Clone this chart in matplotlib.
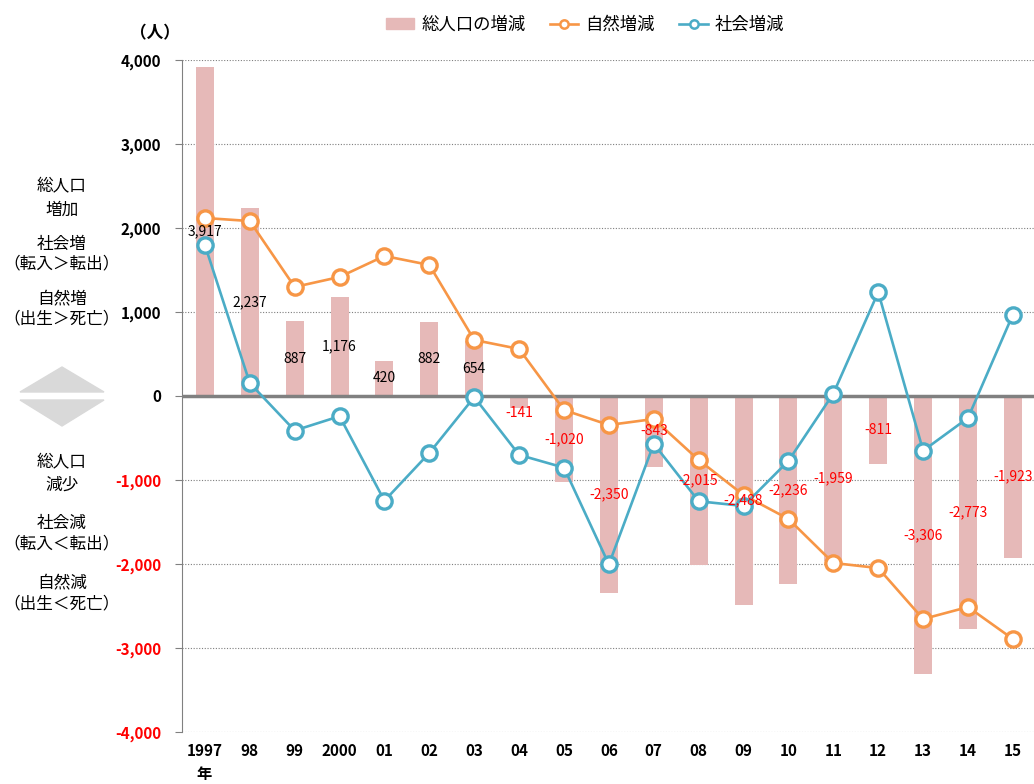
import matplotlib
matplotlib.use("Agg")
import matplotlib.pyplot as plt
from matplotlib.patches import Polygon
from matplotlib.lines import Line2D
from matplotlib.patches import Patch
from matplotlib.ticker import FuncFormatter

plt.rcParams['font.family'] = ['Noto Sans CJK JP', 'DejaVu Sans']

years = ["1997", "98", "99", "2000", "01", "02", "03", "04", "05", "06",
         "07", "08", "09", "10", "11", "12", "13", "14", "15"]
total = [3917, 2237, 887, 1176, 420, 882, 654, -141, -1020, -2350,
         -843, -2015, -2488, -2236, -1959, -811, -3306, -2773, -1923]
natural = [2119, 2083, 1298, 1417, 1667, 1560, 667, 560, -167, -345,
           -274, -762, -1179, -1464, -1988, -2048, -2655, -2512, -2893]
social = [1798, 154, -411, -241, -1247, -678, -13, -701, -853, -2005,
          -569, -1253, -1309, -772, 29, 1237, -651, -261, 970]

BAR_C = "#e6b9b8"
NAT_C = "#f79646"
SOC_C = "#4bacc6"
RED = "#ff0000"

fig = plt.figure(figsize=(10.34, 7.84), dpi=100)
ax = fig.add_axes([182 / 1034, 52 / 784, 1 - 182 / 1034, (732 - 60) / 784])

x = list(range(len(years)))
ax.bar(x, total, width=0.4, color=BAR_C, zorder=2)
ax.axhline(0, color="#808080", lw=2.5, zorder=3)
ax.plot(x, natural, color=NAT_C, lw=1.9, marker="o", ms=11,
        mfc="white", mec=NAT_C, mew=2.4, zorder=4)
ax.plot(x, social, color=SOC_C, lw=1.9, marker="o", ms=11,
        mfc="white", mec=SOC_C, mew=2.4, zorder=4)

# ラベルは棒の中央 (短い棒は棒の外側)
for i, v in enumerate(total):
    ly = v / 2 if abs(v) > 300 else v - 60
    ax.text(i, ly, f"{v:,}", ha="center", va="center", fontsize=10,
            color="black" if v >= 0 else RED, zorder=5)

ax.set_xlim(-0.51, 18.47)
ax.set_ylim(-4000, 4000)
ax.set_yticks(range(-4000, 4001, 1000))
ax.yaxis.set_major_formatter(FuncFormatter(lambda v, p: f"{int(v):,}"))
for lab, v in zip(ax.get_yticklabels(), range(-4000, 4001, 1000)):
    lab.set_fontweight("bold")
    lab.set_fontsize(11)
    lab.set_color(RED if v < 0 else "black")
ax.tick_params(axis="y", length=5, color="#808080", pad=10)
ax.set_xticks(x)
ax.set_xticklabels(years, fontweight="bold", fontsize=11)
ax.tick_params(axis="x", length=0, pad=8)

for v in range(-4000, 4001, 1000):
    if v != 0:
        ax.axhline(v, color="#7f7f7f", lw=0.8, ls=(0, (1, 1.5)), zorder=1)

for s in ["top", "right", "bottom"]:
    ax.spines[s].set_visible(False)
ax.spines["left"].set_color("#808080")

fig.text(204 / 1034, 1 - 774 / 784, "年", fontsize=11, fontweight="bold",
         ha="center", va="center")
fig.text(155 / 1034, 1 - 33 / 784, "（人）", fontsize=12, fontweight="bold",
         ha="center", va="center")

# 左側の説明
notes = [("総人口", 187), ("増加", 210), ("社会増", 244), ("（転入＞転出）", 264),
         ("自然増", 299), ("（出生＞死亡）", 319),
         ("総人口", 463), ("減少", 485), ("社会減", 523), ("（転入＜転出）", 544),
         ("自然減", 583), ("（出生＜死亡）", 604)]
for t, yy in notes:
    fig.text(62 / 1034, 1 - yy / 784, t, fontsize=12, ha="center", va="center")

up = Polygon([(20 / 1034, 1 - 392 / 784), (62 / 1034, 1 - 367 / 784),
              (104 / 1034, 1 - 392 / 784)], closed=True, color="#d9d9d9",
             transform=fig.transFigure)
dn = Polygon([(20 / 1034, 1 - 400 / 784), (62 / 1034, 1 - 426 / 784),
              (104 / 1034, 1 - 400 / 784)], closed=True, color="#d9d9d9",
             transform=fig.transFigure)
fig.patches.extend([up, dn])

handles = [Patch(color=BAR_C),
           Line2D([], [], color=NAT_C, lw=1.9, marker="o", ms=6, mfc="white",
                  mec=NAT_C, mew=1.8),
           Line2D([], [], color=SOC_C, lw=1.9, marker="o", ms=6, mfc="white",
                  mec=SOC_C, mew=1.8)]
fig.legend(handles, ["総人口の増減", "自然増減", "社会増減"], ncol=3,
           loc="center", bbox_to_anchor=(585 / 1034, 1 - 25 / 784),
           frameon=False, fontsize=12.5, handlelength=1.65, handleheight=0.6,
           columnspacing=1.4, handletextpad=0.4)

fig.savefig("out.png", dpi=100)
